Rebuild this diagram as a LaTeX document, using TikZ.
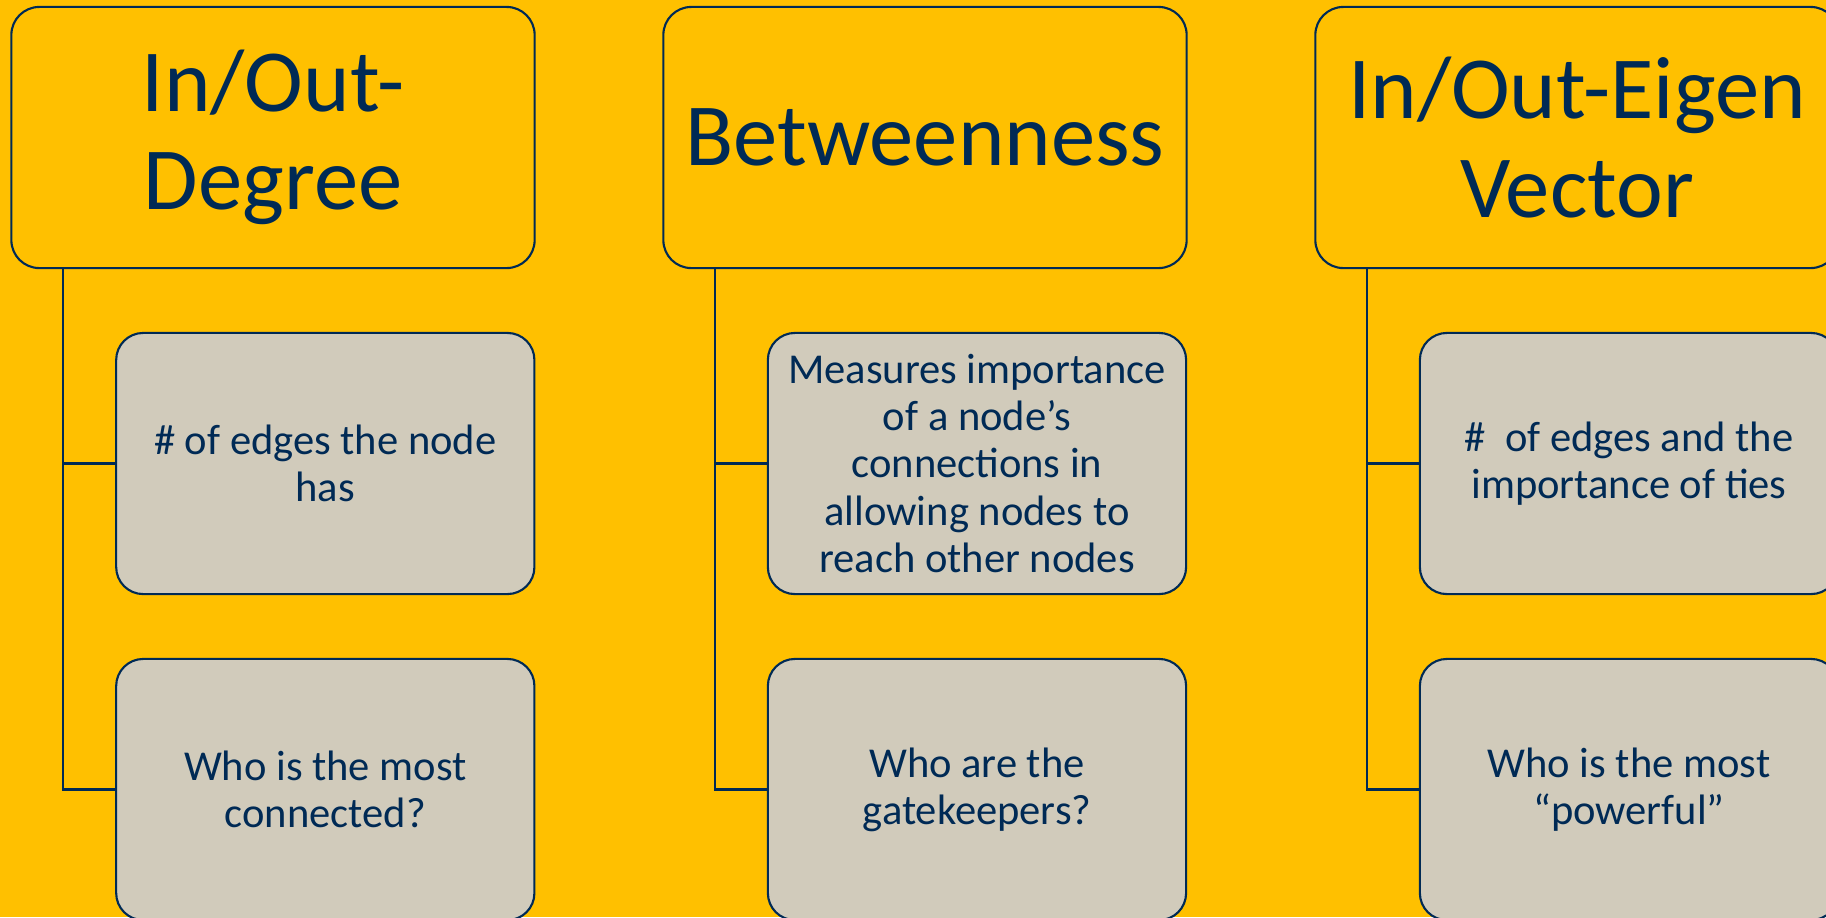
\documentclass[tikz,border=0pt]{standalone}
\usepackage{fontspec}
\setmainfont{Carlito}
\definecolor{gold}{HTML}{FFC000}
\definecolor{navy}{HTML}{002A55}
\definecolor{sand}{HTML}{D1CBBB}

\begin{document}
\begin{tikzpicture}[x=0.01cm, y=-0.01cm,
  head/.style={draw=navy, line width=0.6pt, fill=gold, rounded corners=0.28cm,
    minimum width=5.23cm, minimum height=2.61cm, inner sep=0pt, align=center,
    text=navy, font=\fontsize{25.2}{27.9}\selectfont},
  leaf/.style={draw=navy, line width=0.6pt, fill=sand, rounded corners=0.27cm,
    minimum width=4.18cm, minimum height=2.61cm, inner sep=0pt, align=center,
    text=navy, font=\fontsize{12.1}{13.4}\selectfont},
  link/.style={draw=navy, line width=0.6pt}]
\fill[gold] (0,0) rectangle (1826,917);
\clip (0,0) rectangle (1826,917);
% degree
\node[head] (deg) at (273,137.5) {In/Out-\\Degree};
\node[leaf] (degA) at (325.3,463.5) {\# of edges the node\\has};
\node[leaf] (degB) at (325.3,789.5) {Who is the most\\connected?};
% betweenness
\node[head] (btw) at (925,137.5) {Betweenness};
\node[leaf] (btwA) at (977,463.5) {Measures importance\\of a node’s\\connections in\\allowing nodes to\\reach other nodes};
\node[leaf] (btwB) at (977,789.5) {Who are the\\gatekeepers?};
% eigenvector
\node[head] (eig) at (1577,137.5) {In/Out-Eigen\\Vector};
\node[leaf] (eigA) at (1629,463.5) {\#\ \ of edges and the\\importance of ties};
\node[leaf] (eigB) at (1629,789.5) {Who is the most\\“powerful”};
\foreach \t/\a/\b in {deg/degA/degB, btw/btwA/btwB, eig/eigA/eigB}{
  \draw[link] ([xshift=0.53cm]\t.south west) |- (\a.west);
  \draw[link] ([xshift=0.53cm]\t.south west) |- (\b.west);
}
\end{tikzpicture}
\end{document}
